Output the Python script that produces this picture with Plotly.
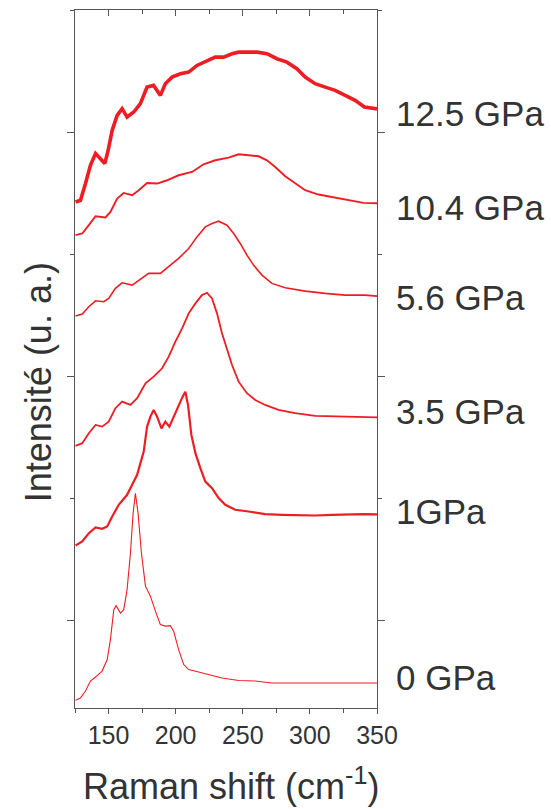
import plotly.graph_objects as go

# ---- data (Raman shift in cm-1, stacked intensity in a.u.) ----
x_0 = [125.4, 129, 132.8, 136.5, 140.3, 145.2, 149, 151.4, 153.9, 155.6, 158.9, 161.3, 163.8, 166.3, 168.3, 170, 172, 174.5, 177.5, 181.2, 184.9, 188.6, 192.3, 196, 198.5, 202.2, 206, 209.7, 217.1, 224.6, 234.5, 246.9, 259.3, 271.7, 291.5, 316.4, 341.1, 350]
y_0 = [7.8, 10, 17, 27, 31, 37, 48.5, 68.5, 98.5, 102.5, 95, 98.5, 118.5, 155, 195, 215, 195, 155, 122, 112, 97, 83.5, 82, 82.5, 77, 58.5, 43.5, 38.5, 36, 33.5, 30, 27.5, 27, 25, 25, 25.5, 25, 25]

x_1 = [125.4, 130.4, 135.3, 140.3, 145.2, 149, 152.7, 157.6, 163.8, 167.6, 171.3, 173.7, 176.2, 178.7, 181.2, 183.6, 186.2, 189.4, 192.3, 195.3, 198.5, 202.2, 205.2, 207.2, 209.2, 211.7, 214.7, 218.4, 222.1, 227.1, 232, 237, 244.4, 254.3, 266.7, 279.2, 291.5, 304, 316.4, 328.7, 339.9, 350]
y_1 = [162.8, 166.8, 175, 180.8, 179.5, 181.8, 191.8, 203.5, 213.5, 223.5, 233.5, 245, 256.8, 281.8, 291.8, 298.5, 291.8, 280, 286.8, 281.8, 291.8, 301.8, 311.8, 316.8, 303.5, 273.5, 255.2, 240.2, 226.8, 220.2, 210.2, 203.5, 198.5, 196.8, 194.2, 193.5, 192.8, 192.8, 193.5, 194.2, 194.2, 194]

x_35 = [125.4, 130.4, 135.3, 140.3, 145.2, 150.1, 155.1, 160.1, 166.3, 171.3, 177.5, 183.6, 189.9, 194.8, 199.8, 204.8, 209.7, 214.7, 219.6, 223.4, 227.1, 230.8, 234.5, 238.2, 242, 246.9, 253.1, 259.3, 266.7, 276.6, 289, 304, 321.3, 339.9, 350]
y_35 = [262.5, 265.2, 275.2, 283.5, 281.8, 286.8, 300.2, 306.8, 303.5, 310.2, 325.2, 331.8, 340.2, 351.8, 366.8, 380.2, 395.2, 405.2, 413.5, 415.8, 410.2, 395.2, 375.2, 358.5, 343.5, 326.8, 315.2, 308.5, 303.5, 298.5, 295.2, 292.5, 291.8, 291.2, 291]

x_56 = [125.4, 130.4, 135.3, 140.3, 146.4, 150.1, 155.1, 160.1, 167.6, 172.5, 179.9, 188.6, 194.8, 202.2, 209.7, 215.9, 222.1, 227.1, 232, 238.2, 243.2, 248.1, 253.1, 258, 264.3, 271.7, 281.6, 296.5, 311.4, 326.3, 341.1, 350]
y_56 = [392.5, 394.5, 401.8, 407.8, 406.8, 410.2, 420.2, 425.8, 423.5, 428.5, 435.2, 435.2, 441.8, 450.2, 460.2, 471.8, 481.8, 485.2, 487.5, 483.5, 475.2, 465.2, 453.5, 443.5, 433.5, 425.2, 420.8, 417.5, 415.2, 413.5, 413.5, 412.5]

x_104 = [125.4, 130.4, 135.3, 140.3, 147.7, 151.4, 156.4, 161.3, 167.6, 172.5, 178.7, 186.2, 193.6, 202.2, 212.2, 220.8, 229.5, 239.4, 246.9, 255.6, 261.8, 268, 274.2, 281.6, 289.1, 296.5, 306.4, 316.4, 328.7, 339.9, 350]
y_104 = [473.5, 475.2, 483.5, 492.5, 491.2, 496.8, 510.2, 515.8, 513.5, 518.5, 525.8, 525.2, 528.5, 533.5, 536.8, 544.5, 548.5, 551.2, 554.5, 553.5, 552.5, 548.5, 541.8, 532.5, 525.2, 518.5, 514.2, 511.8, 508.5, 505.8, 505.5]

x_125 = [125.4, 129.1, 132.8, 136.5, 140.3, 144, 147.2, 149.7, 152.7, 156.4, 160.1, 163.8, 168.8, 173.7, 178.7, 183.6, 188.6, 192.3, 197.3, 203.5, 209.7, 215.9, 223.4, 229.5, 235.7, 242, 246.9, 253.1, 260.6, 268, 275.4, 282.9, 290.3, 296.5, 303.9, 311.4, 318.8, 326.3, 333.7, 340.6, 350]
y_125 = [506.8, 508.5, 525.2, 543.5, 555.2, 550.2, 545.2, 558.5, 578.5, 593.5, 600.2, 591.8, 596.8, 605.2, 621.8, 623.5, 613.5, 625.2, 631.8, 635.2, 636.8, 643.5, 648.5, 651.8, 651.8, 655.2, 656.8, 656.8, 656.8, 655.2, 650.2, 646.8, 640.2, 631.8, 625.2, 621.8, 618.5, 613.5, 608.5, 601.8, 600]

labels = ["0 GPa", "1GPa", "3.5 GPa", "5.6 GPa", "10.4 GPa", "12.5 GPa"]
label_y = [30.2, 197, 296.8, 411, 501, 595.5]

series_x = [x_0, x_1, x_35, x_56, x_104, x_125]
series_y = [y_0, y_1, y_35, y_56, y_104, y_125]
widths = [1.1, 2.2, 1.8, 1.6, 1.9, 3.6]

RED = "#ee1d24"
AX = "#555555"
TXT = "#333333"
FONT = "Liberation Sans, Arial, sans-serif"

fig = go.Figure()
for xs, ys, w in zip(series_x, series_y, widths):
    fig.add_trace(go.Scatter(x=xs, y=ys, mode="lines",
                             line=dict(color=RED, width=w), hoverinfo="skip"))
# helper trace to materialise the top axis
fig.add_trace(go.Scatter(x=[125], y=[None], xaxis="x2", yaxis="y", showlegend=False,
                         hoverinfo="skip"))

fig.update_layout(
    width=551, height=809,
    margin=dict(l=74.5, r=174.3, t=9.5, b=100.5),
    paper_bgcolor="white", plot_bgcolor="white",
    showlegend=False,
    font=dict(family=FONT, color=TXT),
    xaxis=dict(range=[125, 350], tick0=0, dtick=50, ticks="outside", ticklen=5,
               tickwidth=1.2, tickcolor=AX, showline=True, linecolor=AX, linewidth=1.3,
               mirror=True, showgrid=False, zeroline=False,
               tickfont=dict(size=25, color=TXT, family=FONT),
               minor=dict(tick0=0, dtick=25, ticks="outside", ticklen=3.5,
                          tickwidth=1.2, tickcolor=AX, showgrid=False)),
    xaxis2=dict(range=[125, 350], overlaying="x", side="top", anchor="y",
                tick0=0, dtick=50, ticks="inside", ticklen=6, tickwidth=1.2,
                tickcolor=AX, showticklabels=False, showline=False, showgrid=False,
                zeroline=False,
                minor=dict(tick0=0, dtick=25, ticks="inside", ticklen=4,
                           tickwidth=1.2, tickcolor=AX, showgrid=False)),
    yaxis=dict(range=[0, 699], tick0=87.5, dtick=244.6, ticks="outside", ticklen=7,
               tickwidth=1.2, tickcolor=AX, showline=True, linecolor=AX, linewidth=1.3,
               mirror="ticks", showgrid=False, zeroline=False, showticklabels=False,
               minor=dict(tick0=87.5, dtick=122.3, ticks="outside", ticklen=3.5,
                          tickwidth=1.2, tickcolor=AX, showgrid=False)),
)

for txt, ly in zip(labels, label_y):
    fig.add_annotation(text=txt, xref="paper", yref="y", x=1.0556, y=ly,
                       xanchor="left", yanchor="middle", showarrow=False,
                       font=dict(size=35, color=TXT, family=FONT))

fig.add_annotation(text="Raman shift (cm<sup>-1</sup>)", xref="paper", yref="paper",
                   x=0.518, y=-0.109, xanchor="center", yanchor="middle",
                   showarrow=False, font=dict(size=36, color=TXT, family=FONT))
fig.add_annotation(text="Intensité (u. a.)", xref="paper", yref="paper",
                   x=-0.1224, y=0.4668, xanchor="center", yanchor="middle",
                   textangle=-90, showarrow=False,
                   font=dict(size=36, color=TXT, family=FONT))

fig.write_html("out.html",
               config={"displayModeBar": False},
               post_script="document.body.style.margin='0';"
                           "document.body.style.overflow='hidden';")
